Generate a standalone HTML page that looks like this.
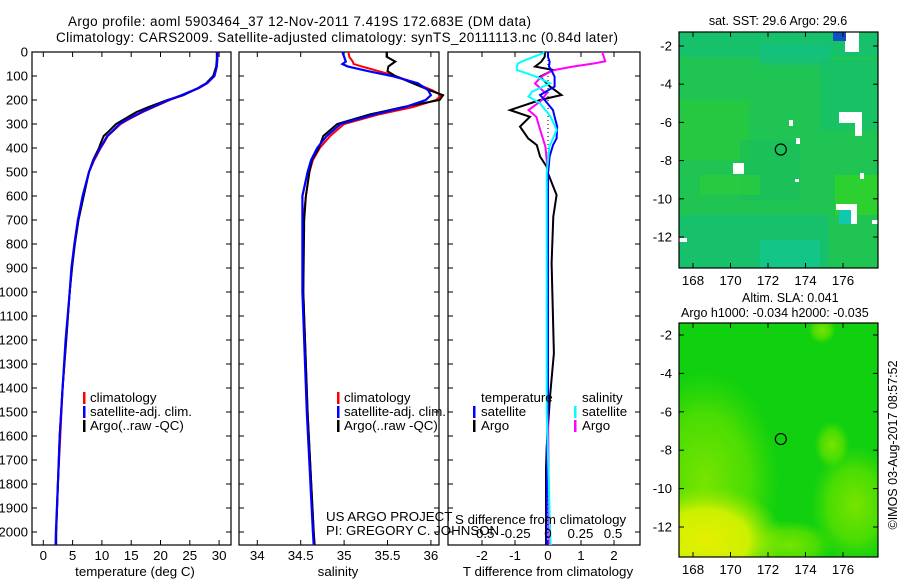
<!DOCTYPE html>
<html><head><meta charset="utf-8"><style>
html,body{margin:0;padding:0;background:#fff;}
svg{display:block;font-family:"Liberation Sans",sans-serif;}
</style></head><body>
<svg id="fig" width="900" height="580" viewBox="0 0 900 580" xmlns="http://www.w3.org/2000/svg">
<defs>
<radialGradient id="yel" cx="0.5" cy="0.5" r="0.5"><stop offset="0" stop-color="#e4f000"/><stop offset="0.55" stop-color="#ccf000"/><stop offset="1" stop-color="#90e800" stop-opacity="0"/></radialGradient>
<radialGradient id="lg" cx="0.5" cy="0.5" r="0.5"><stop offset="0" stop-color="#78e400"/><stop offset="0.6" stop-color="#58e000" stop-opacity="0.8"/><stop offset="1" stop-color="#40dc00" stop-opacity="0"/></radialGradient>
<clipPath id="c1"><rect x="679" y="32" width="199" height="236"/></clipPath>
<clipPath id="c2"><rect x="679" y="323" width="199" height="234"/></clipPath>
</defs>
<text x="68" y="26" font-size="13.5" textLength="463">Argo profile: aoml 5903464_37 12-Nov-2011 7.419S 172.683E (DM data)</text>
<text x="56" y="42" font-size="13.5" textLength="562">Climatology: CARS2009. Satellite-adjusted climatology: synTS_20111113.nc (0.84d later)</text>
<g id="g"></g>
</svg>
<script>
// ---- data ----
const tDepth=[0,30,60,100,130,150,180,200,230,250,280,300,330,350,380,400,450,500,600,700,800,900,1000,1200,1400,1600,1800,2000,2054];
const tClim=[29.7,29.7,29.6,29.2,28.0,26.6,23.8,21.6,18.8,17.0,14.6,13.2,11.9,11.0,10.3,9.8,8.7,7.8,6.8,5.9,5.3,4.9,4.5,3.9,3.3,2.9,2.5,2.2,2.15];
const tSat=[29.7,29.7,29.6,29.2,27.9,26.5,23.6,21.4,18.6,16.8,14.4,13.0,11.8,10.9,10.2,9.7,8.6,7.8,6.7,5.9,5.3,4.8,4.5,3.8,3.3,2.8,2.5,2.15,2.1];
const tArgo=[29.6,29.6,29.5,29.0,27.8,26.4,23.9,21.2,17.9,15.9,13.8,12.4,11.2,10.3,9.8,9.5,8.5,7.8,6.9,6.0,5.4,4.9,4.5,3.9,3.3,2.8,2.5,2.2,2.2];
const sDepth=[0,20,40,50,60,80,100,130,160,180,200,230,260,300,350,400,450,500,600,700,1000,1500,2000,2054];
const sClim=[35.05,35.06,35.1,35.11,35.2,35.4,35.59,35.82,36.02,36.12,36.06,35.79,35.4,35.0,34.84,34.72,34.64,34.6,34.56,34.53,34.53,34.58,34.65,34.66];
const sSat=[34.98,35.0,35.02,34.98,35.04,35.28,35.55,35.85,35.97,36.0,35.94,35.7,35.35,34.96,34.8,34.69,34.62,34.58,34.52,34.52,34.52,34.57,34.64,34.65];
const sArgo=[35.49,35.49,35.59,35.55,35.51,35.5,35.59,35.79,35.99,36.14,36.1,35.67,35.3,34.92,34.76,34.71,34.63,34.6,34.56,34.54,34.53,34.58,34.65,34.66];
const dtDepth=[0,20,40,61,75,103,144,179,200,242,270,311,360,388,436,478,506,596,686,880,1255,1436,1645,1738,2054];
const dtArgo=[-0.09,-0.1,-0.2,-0.39,0.16,-0.24,0.06,0.41,-0.24,-1.15,-0.55,-0.85,-0.6,-0.34,-0.24,-0.04,0,0.26,0.16,0.11,0.18,0.06,-0.04,-0.06,-0.06];
const dtSat=[0,0,0.05,0.03,0.1,0.2,0.2,-0.24,-0.1,0.15,0.2,0.28,0.26,0.15,0.05,0.02,0.0,0,0,0,0,0,-0.03,-0.03,-0.05];
const dsDepth=[0,4,39,48,61,75,82,103,131,166,172,186,207,214,242,256,270,325,394,506,533,1000,1500,2054];
const dsSat=[-0.03,-0.036,-0.2,-0.23,-0.24,-0.24,-0.2,-0.09,0.015,-0.125,-0.13,-0.15,-0.08,-0.06,-0.02,0,0.02,0.067,0.01,-0.01,-0.01,-0.01,-0.01,0.02];
const dsArgo=[0.42,0.42,0.44,0.35,0.19,0.05,0.015,-0.05,-0.1,-0.03,-0.01,-0.03,-0.06,-0.08,-0.15,-0.12,-0.09,-0.06,-0.02,0,0,0,0,0.01];
const depthTicks=[0,100,200,300,400,500,600,700,800,900,1000,1100,1200,1300,1400,1500,1600,1700,1800,1900,2000];
const tTicks=[0,5,10,15,20,25,30];
const sTicks=[34,34.5,35,35.5,36];
const dtTicks=[-2,-1,0,1,2];
const dsTicks=[-0.5,-0.25,0,0.25,0.5];
const dsTickLabels=["-0.5","-0.25","0","0.25","0.5"];
const latTicks=[-2,-4,-6,-8,-10,-12];
const lonTicks=[168,170,172,174,176];
const argoLon=172.683, argoLat=-7.419;

// ---- helpers ----
const NS="http://www.w3.org/2000/svg";
const G=document.getElementById('g');
const FS=13.3;
function el(tag,attrs,parent){const e=document.createElementNS(NS,tag);for(const k in attrs)e.setAttribute(k,attrs[k]);(parent||G).appendChild(e);return e;}
const yD=d=>52+d*0.24;
const xT=t=>43.3+5.86*t;
const xS=s=>257.3+86.8*(s-34);
const xDT=t=>548+33*t;
const xDS=s=>548+130*s;
function line(xs,ds,fx,color,w,name){
  const pts=xs.map((v,i)=>fx(v).toFixed(1)+','+yD(ds[i]).toFixed(1)).join(' ');
  const p=el('polyline',{points:pts,fill:'none',stroke:color,'stroke-width':w,'stroke-linejoin':'miter'});
  
  
}
function txt(x,y,s,size,anchor,name,extra){
  const t=el('text',Object.assign({x:x,y:y,'font-size':size,'text-anchor':anchor||'start',fill:'#000'},extra||{}));
  t.textContent=s;
  
  
  return t;
}
function frame(x0,x1,y0,y1,name){
  const r=el('rect',{x:x0,y:y0,width:x1-x0,height:y1-y0,fill:'none',stroke:'#000','stroke-width':1.2});
  
  
  depthTicks.forEach(d=>{el('line',{x1:x0,x2:x0+5,y1:yD(d),y2:yD(d),stroke:'#000'});el('line',{x1:x1-5,x2:x1,y1:yD(d),y2:yD(d),stroke:'#000'});});
}
function xticks(vals,fx,y0,y1){vals.forEach(v=>{el('line',{x1:fx(v),x2:fx(v),y1:y0,y2:y0+5,stroke:'#000'});el('line',{x1:fx(v),x2:fx(v),y1:y1-5,y2:y1,stroke:'#000'});});}
function legendBar(x,y,color,name){const b=el('rect',{x:x,y:y-6,width:2.5,height:12,fill:color});}

// ---- depth labels ----
depthTicks.forEach(d=>txt(28,yD(d)+4.5,String(d),FS,'end','depth-tick-label'));

// ---- panel 1 temperature ----
frame(32,231,52,545,'temperature-panel');
xticks(tTicks,xT,52,545);
tTicks.forEach(t=>txt(xT(t),560,String(t),FS,'middle','temperature-tick-label'));
txt(135,576,'temperature (deg C)',FS,'middle','temperature-axis-title');
line(tClim,tDepth,xT,'#ff0000',2,'temperature-climatology-line');
line(tArgo,tDepth,xT,'#000000',2,'temperature-argo-line');
line(tSat,tDepth,xT,'#0000ff',2.2,'temperature-satellite-line');
legendBar(83,398,'#ff0000','legend-climatology-swatch');txt(90,402,'climatology',FS,'start','legend-climatology');
legendBar(83,412,'#0000ff','legend-satellite-swatch');txt(90,416,'satellite-adj. clim.',FS,'start','legend-satellite');
legendBar(83,426,'#000000','legend-argo-swatch');txt(90,430,'Argo(..raw -QC)',FS,'start','legend-argo');

// ---- panel 2 salinity ----
frame(239,439,52,545,'salinity-panel');
xticks(sTicks,xS,52,545);
sTicks.forEach(s=>txt(xS(s),560,String(s),FS,'middle','salinity-tick-label'));
txt(338,576,'salinity',FS,'middle','salinity-axis-title');
line(sClim,sDepth,xS,'#ff0000',2,'salinity-climatology-line');
line(sArgo,sDepth,xS,'#000000',2,'salinity-argo-line');
line(sSat,sDepth,xS,'#0000ff',2.2,'salinity-satellite-line');
legendBar(337,398,'#ff0000','legend2-climatology-swatch');txt(344,402,'climatology',FS,'start','legend2-climatology');
legendBar(337,412,'#0000ff','legend2-satellite-swatch');txt(344,416,'satellite-adj. clim.',FS,'start','legend2-satellite');
legendBar(337,426,'#000000','legend2-argo-swatch');txt(344,430,'Argo(..raw -QC)',FS,'start','legend2-argo');
txt(326,521,'US ARGO PROJECT',FS,'start','project-label');
txt(326,535,'PI: GREGORY C. JOHNSON',FS,'start','pi-label');

// ---- panel 3 differences ----
frame(448,640,52,545,'difference-panel');
xticks(dtTicks,xDT,52,545);
el('line',{x1:548,x2:548,y1:52,y2:545,stroke:'#000','stroke-dasharray':'1,3'});
line(dtArgo,dtDepth,xDT,'#000000',2,'t-diff-argo-line');
line(dsArgo,dsDepth,xDS,'#ff00ff',2,'s-diff-argo-line');
line(dtSat,dtDepth,xDT,'#0000ff',2,'t-diff-satellite-line');
line(dsSat,dsDepth,xDS,'#00ffff',2,'s-diff-satellite-line');
txt(481,402,'temperature',FS,'start','legend3-temperature');
txt(582,402,'salinity',FS,'start','legend3-salinity');
legendBar(473,412,'#0000ff','legend3-t-satellite-swatch');txt(481,416,'satellite',FS,'start','legend3-t-satellite');
legendBar(473,426,'#000000','legend3-t-argo-swatch');txt(481,430,'Argo',FS,'start','legend3-t-argo');
legendBar(574,412,'#00ffff','legend3-s-satellite-swatch');txt(582,416,'satellite',FS,'start','legend3-s-satellite');
legendBar(574,426,'#ff00ff','legend3-s-argo-swatch');txt(582,430,'Argo',FS,'start','legend3-s-argo');
txt(455,524,'S difference from climatology',FS,'start','s-diff-axis-title');
dsTicks.forEach((s,i)=>txt(xDS(s),538,dsTickLabels[i],FS,'middle','s-diff-tick-label'));
dtTicks.forEach(t=>txt(xDT(t),560,String(t),FS,'middle','t-diff-tick-label'));
txt(548,576,'T difference from climatology',FS,'middle','t-diff-axis-title');

// ---- maps ----
const grp1=el('g',{'clip-path':'url(#c1)'});
el('rect',{x:679,y:32,width:199,height:236,fill:'#20c452'},grp1);
[[679,32,199,25,'#14c078',0.7],[760,45,70,20,'#10c088',0.6],[679,100,70,60,'#2ccc38',0.6],[740,140,60,60,'#18bc60',0.5],[820,60,58,70,'#14c070',0.6],[679,215,150,53,'#14c078',0.7],[835,175,43,40,'#30d428',0.8],[700,175,60,20,'#30d030',0.5],[760,240,60,28,'#10c898',0.6]].forEach(r=>el('rect',{x:r[0],y:r[1],width:r[2],height:r[3],fill:r[4],opacity:r[5]},grp1));
[[845,32,14,20],[839,112,23,11],[855,112,7,24],[733,163,11,11],[789,120,4,6],[796,138,4,6],[860,173,4,6],[795,179,4,3],[836,204,21,6],[848,204,9,20],[872,220,6,4],[679,238,8,4]].forEach(r=>el('rect',{x:r[0],y:r[1],width:r[2],height:r[3],fill:'#fff'},grp1));
el('rect',{x:833,y:32,width:13,height:9,fill:'#1050c0'},grp1);
el('rect',{x:839,y:210,width:12,height:14,fill:'#10c8b0'},grp1);
const grp2=el('g',{'clip-path':'url(#c2)'});
el('rect',{x:679,y:323,width:199,height:234,fill:'#10d010'},grp2);
el('ellipse',{cx:705,cy:480,rx:75,ry:110,fill:'url(#lg)'},grp2);
el('ellipse',{cx:855,cy:505,rx:45,ry:60,fill:'url(#lg)'},grp2);
el('ellipse',{cx:832,cy:445,rx:18,ry:24,fill:'url(#lg)'},grp2);
el('ellipse',{cx:790,cy:545,rx:45,ry:25,fill:'url(#lg)'},grp2);
el('ellipse',{cx:822,cy:330,rx:14,ry:14,fill:'url(#lg)'},grp2);
el('ellipse',{cx:705,cy:540,rx:80,ry:55,fill:'url(#yel)'},grp2);
[[323,557,335,527,'sla'],[32,268,46,237,'sst']].forEach(([y0,y1,a,b,nm])=>{
  const lx=lon=>693+(lon-168)*18.75, ly=lat=>a+(-2-lat)*(b-a)/10;
  const r=el('rect',{x:679,y:y0,width:199,height:y1-y0,fill:'none',stroke:'#000','stroke-width':1.2});
  
  
  latTicks.forEach(l=>{el('line',{x1:679,x2:684,y1:ly(l),y2:ly(l),stroke:'#000'});el('line',{x1:873,x2:878,y1:ly(l),y2:ly(l),stroke:'#000'});txt(672,ly(l)+4.5,String(l),FS,'end',nm+'-lat-label');});
  lonTicks.forEach(l=>{el('line',{x1:lx(l),x2:lx(l),y1:y0,y2:y0+5,stroke:'#000'});el('line',{x1:lx(l),x2:lx(l),y1:y1-5,y2:y1,stroke:'#000'});txt(lx(l),y1+17,String(l),FS,'middle',nm+'-lon-label');});
  const c=el('circle',{cx:lx(argoLon),cy:ly(argoLat),r:5.5,fill:'none',stroke:'#000','stroke-width':1.2});
  
  
});
txt(778,25,'sat. SST: 29.6 Argo: 29.6',12.5,'middle','sst-map-title');
txt(742,302,'Altim. SLA: 0.041',12.5,'start','sla-map-title');
txt(681,317,'Argo h1000: -0.034 h2000: -0.035',12.5,'start','sla-map-subtitle');
txt(0,0,'©IMOS 03-Aug-2017 08:57:52',12.5,'middle','copyright-label',{transform:'translate(897,445) rotate(-90)'});
</script>
</body></html>
